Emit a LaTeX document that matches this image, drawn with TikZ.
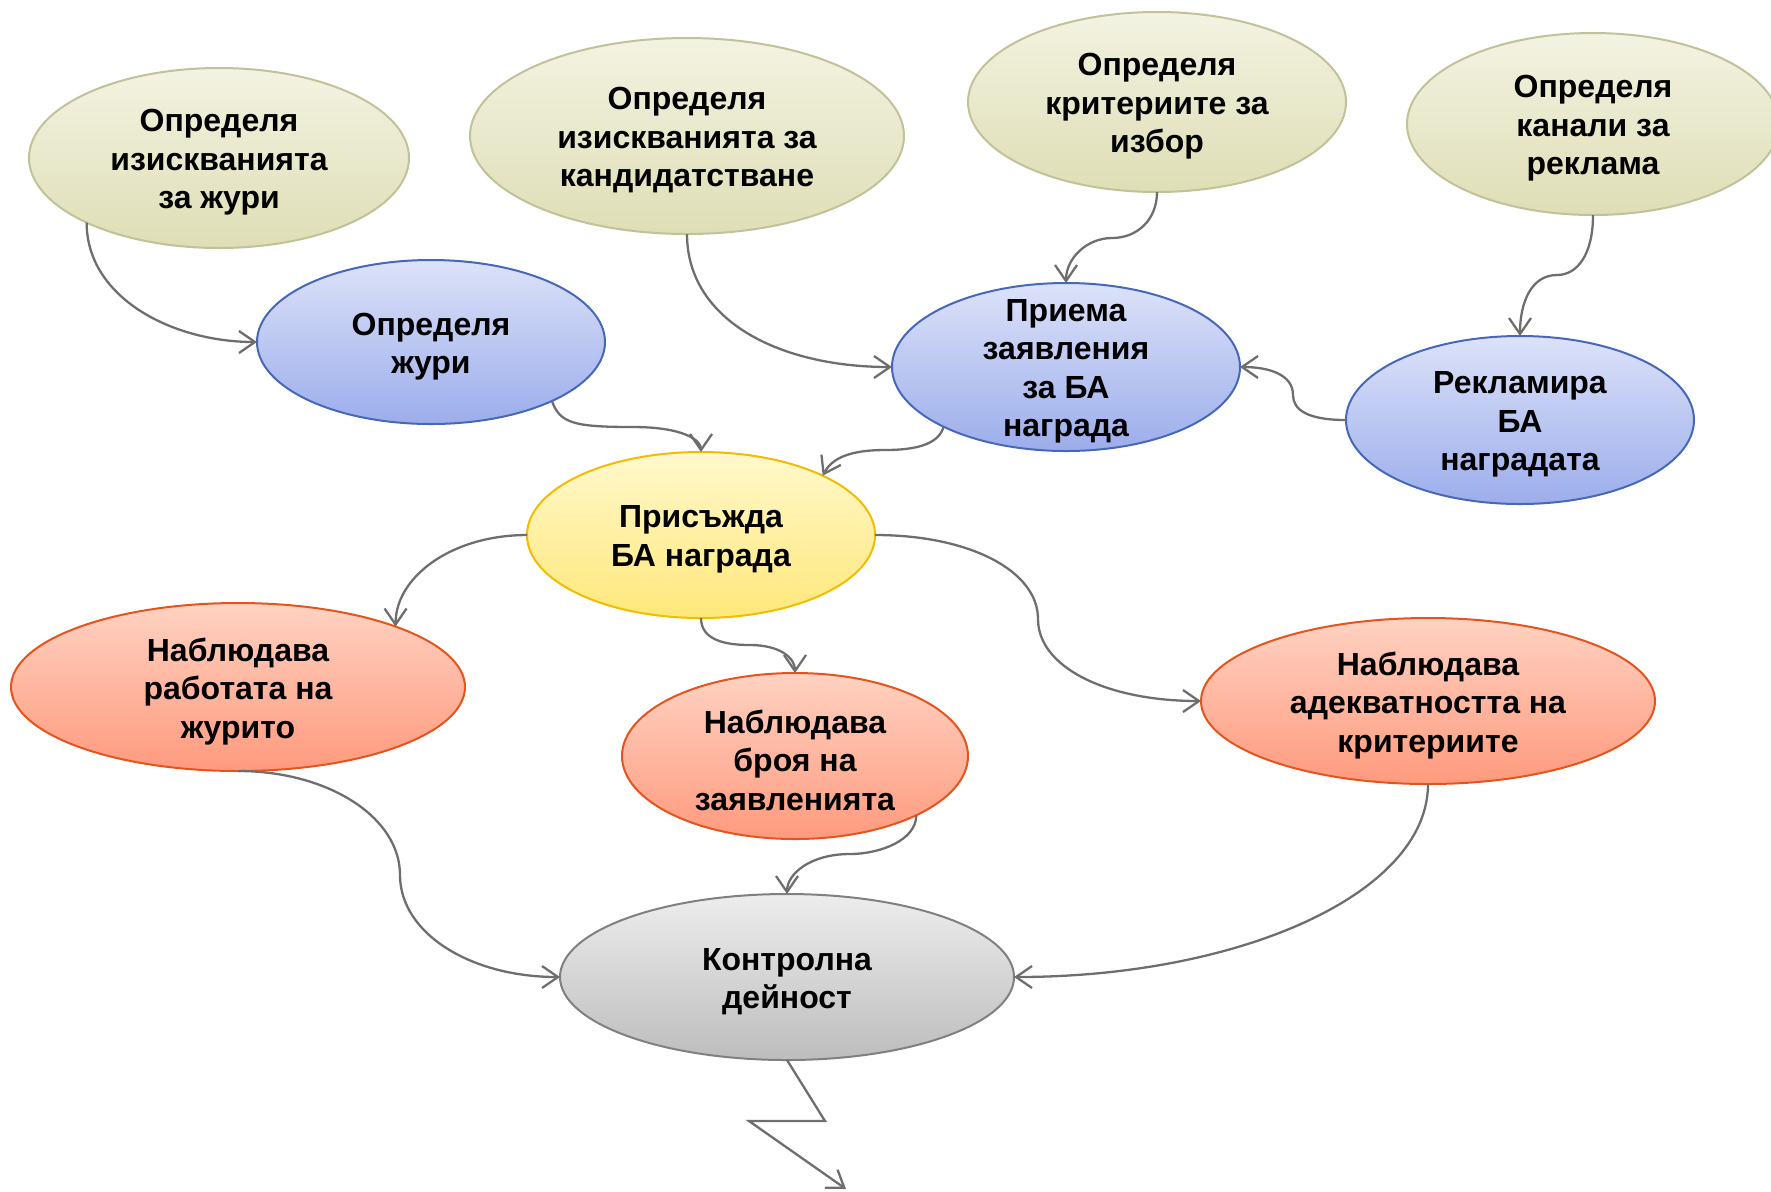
\documentclass[tikz,border=0pt]{standalone}
\usepackage{fontspec}
\setmainfont{Liberation Sans}
\usetikzlibrary{shapes.geometric,arrows.meta}
\definecolor{olvT}{HTML}{F3F3E2}
\definecolor{olvD}{HTML}{DEDEB6}
\definecolor{olvB}{HTML}{C2C29A}
\definecolor{bluT}{HTML}{DCE2F9}
\definecolor{bluD}{HTML}{9CADEB}
\definecolor{bluB}{HTML}{4767B9}
\definecolor{yelT}{HTML}{FFF8CC}
\definecolor{yelD}{HTML}{FFE87A}
\definecolor{yelB}{HTML}{F2BC00}
\definecolor{redT}{HTML}{FFD2C2}
\definecolor{redD}{HTML}{FF9A7E}
\definecolor{redB}{HTML}{E6541E}
\definecolor{gryT}{HTML}{EDEDED}
\definecolor{gryD}{HTML}{BDBDBD}
\definecolor{gryB}{HTML}{808080}
\definecolor{conC}{HTML}{6E6E6E}
\tikzset{
  ell/.style={ellipse, inner sep=0pt, outer sep=0pt, line width=1pt},
  olv/.style={ell, draw=olvB, top color=olvT, bottom color=olvD},
  blu/.style={ell, draw=bluB, top color=bluT, bottom color=bluD},
  yel/.style={ell, draw=yelB, top color=yelT, bottom color=yelD},
  red/.style={ell, draw=redB, top color=redT, bottom color=redD},
  gry/.style={ell, draw=gryB, top color=gryT, bottom color=gryD},
  txt/.style={font=\bfseries\fontsize{16}{19.2}\selectfont, align=center, inner sep=0pt, yshift=-2.2pt},
  con/.style={draw=conC, line width=1.15pt, -{Straight Barb[length=8pt,width=11pt]}},
}
\begin{document}
\begin{tikzpicture}[x=0.5pt,y=-0.5pt]
\useasboundingbox (0,0) rectangle (1771,1191);
% nodes
\node[olv, minimum width=190pt, minimum height=90pt] (e1) at (219,158) {};
\node[txt] (t1) at (e1) {Определя\\изискванията\\за жури};
\node[olv, minimum width=217pt, minimum height=98pt] (e2) at (687,136) {};
\node[txt] (t2) at (e2) {Определя\\изискванията за\\кандидатстване};
\node[olv, minimum width=189pt, minimum height=90pt] (e3) at (1157,102) {};
\node[txt] (t3) at (e3) {Определя\\критериите за\\избор};
\node[olv, minimum width=186pt, minimum height=91pt] (e4) at (1593,124) {};
\node[txt] (t4) at (e4) {Определя\\канали за\\реклама};
\node[blu, minimum width=174pt, minimum height=82pt] (e5) at (431,342) {};
\node[txt] (t5) at (e5) {Определя\\жури};
\node[blu, minimum width=174pt, minimum height=84pt] (e6) at (1066,367) {};
\node[txt] (t6) at (e6) {Приема\\заявления\\за БА\\награда};
\node[blu, minimum width=174pt, minimum height=84pt] (e7) at (1520,420) {};
\node[txt] (t7) at (e7) {Рекламира\\БА\\наградата};
\node[yel, minimum width=174pt, minimum height=83pt] (e8) at (701,535) {};
\node[txt] (t8) at (e8) {Присъжда\\БА награда};
\node[red, minimum width=227pt, minimum height=84pt] (e9) at (238,687) {};
\node[txt] (t9) at (e9) {Наблюдава\\работата на\\журито};
\node[red, minimum width=173pt, minimum height=83pt] (e10) at (795,756) {};
\node[txt] (t10) at (e10) {Наблюдава\\броя на\\заявленията};
\node[red, minimum width=227pt, minimum height=83pt] (e11) at (1428,701) {};
\node[txt] (t11) at (e11) {Наблюдава\\адекватността на\\критериите};
\node[gry, minimum width=227pt, minimum height=83pt] (e12) at (787,977) {};
\node[txt] (t12) at (e12) {Контролна\\дейност};
% connectors
\draw[con] (e1.206) .. controls +(0,75) and +(-85,0) .. (e5.west);
\draw[con] (e2.south) .. controls +(0,85) and +(-115,0) .. (e6.west);
\draw[con] (e3.south) .. controls +(0,28) and +(25,0) .. (1112,238)
                      .. controls +(-25,0) and +(0,-25) .. (e6.north);
\draw[con] (e4.south) .. controls +(0,40) and +(20,0) .. (1557,275)
                      .. controls +(-25,0) and +(0,-35) .. (e7.north);
\draw[con] (e7.west) .. controls +(-38,0) and +(0,15) .. (1293,395)
                     .. controls +(0,-20) and +(30,0) .. (e6.east);
\draw[con] (e5.334) .. controls +(8,22) and +(-60,0) .. (633,427)
                    .. controls +(50,0) and +(0,-12) .. (e8.north);
\draw[con] (e6.206) .. controls +(-5,18) and +(30,0) .. (885,450)
                    .. controls +(-40,0) and +(8,-15) .. (e8.26);
\draw[con] (e8.west) .. controls +(-75,0) and +(0,-50) .. (e9.21);
\draw[con] (e8.south) .. controls +(0,22) and +(-25,0) .. (750,645)
                      .. controls +(30,0) and +(0,-15) .. (e10.north);
\draw[con] (e8.east) .. controls +(95,0) and +(0,-48) .. (1038,619)
                     .. controls +(0,48) and +(-95,0) .. (e11.west);
\draw[con] (e9.south) .. controls +(90,0) and +(0,-58) .. (400,875)
                      .. controls +(0,58) and +(-90,0) .. (e12.west);
\draw[con] (e10.334) .. controls +(0,25) and +(30,0) .. (850,854)
                     .. controls +(-40,0) and +(0,-20) .. (e12.north);
\draw[con] (e11.south) .. controls +(0,110) and +(225,0) .. (e12.east);
\coordinate (z1) at (825,1121);
\coordinate (z2) at (749,1121);
\coordinate (z3) at (846,1189);
\draw[con] (e12.south) -- (z1) -- (z2) -- (z3);
\end{tikzpicture}
\end{document}
